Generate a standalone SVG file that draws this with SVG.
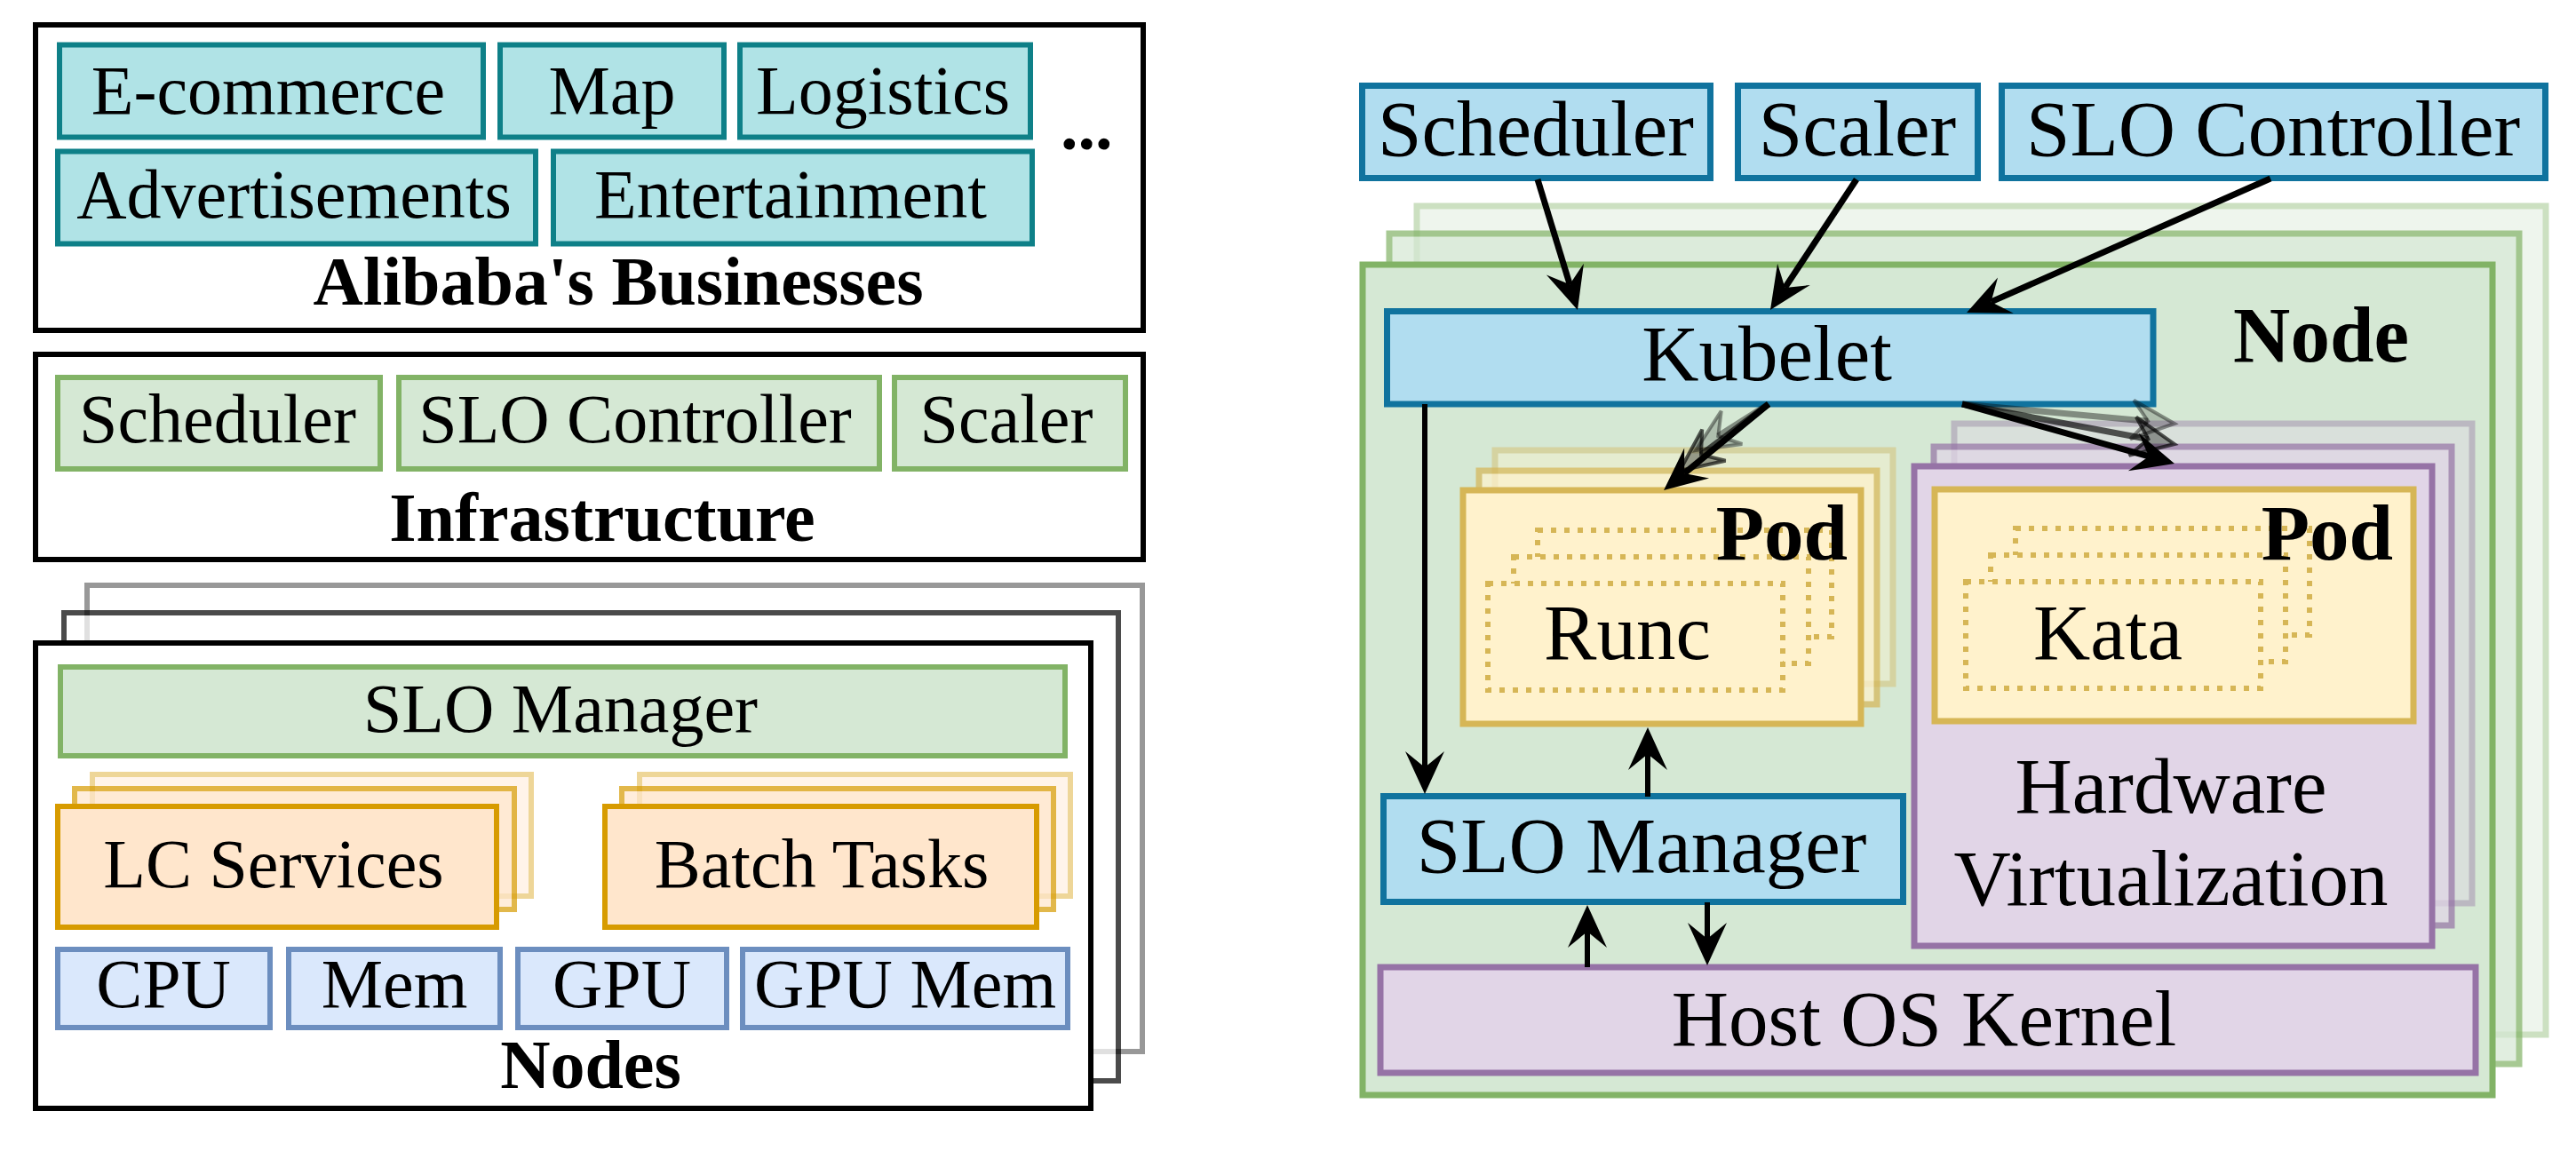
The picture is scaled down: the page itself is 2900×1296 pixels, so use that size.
<svg xmlns="http://www.w3.org/2000/svg" width="2900" height="1296" viewBox="0 0 2900 1296">
<style>
text{font-family:"Liberation Serif","Times New Roman",serif;fill:#000}
.l{font-size:78px}
.r{font-size:89px}
.b{font-weight:bold}
.m{text-anchor:middle}
.e{text-anchor:end}
.frame{fill:#fff;stroke:#000;stroke-width:6}
.teal{fill:#b0e3e6;stroke:#0e8088;stroke-width:6}
.grnL{fill:#d5e8d4;stroke:#82b366;stroke-width:6}
.orgL{fill:#ffe6cc;stroke:#d79b00;stroke-width:6}
.bluL{fill:#dae8fc;stroke:#6c8ebf;stroke-width:6}
.blu{fill:#b1ddf0;stroke:#10739e;stroke-width:7}
.grn{fill:#d5e8d4;stroke:#82b366;stroke-width:7}
.yel{fill:#fff2cc;stroke:#d6b656;stroke-width:7}
.pur{fill:#e1d5e7;stroke:#9673a6;stroke-width:7}
.dot{fill:#fff2cc;stroke:#d6b656;stroke-width:6;stroke-dasharray:6 9}
.o7{opacity:0.7}
.o4{opacity:0.4}
.c{fill:none;stroke:#000;stroke-width:7}
.cs{fill:none;stroke:#000;stroke-width:6}
.g6{fill:none;stroke:#000;stroke-width:7;stroke-opacity:0.65}
.g3{fill:none;stroke:#000;stroke-width:7;stroke-opacity:0.4}
</style>
<defs>
<marker id="arr" markerUnits="userSpaceOnUse" viewBox="-22 -26 56 52" refX="0" refY="0" markerWidth="56" markerHeight="52" orient="auto">
<path d="M30,0 L-18,-22 L0,0 L-18,22 Z" fill="#000"/>
</marker>
<marker id="gh6" markerUnits="userSpaceOnUse" viewBox="-24 -28 60 56" refX="0" refY="0" markerWidth="60" markerHeight="56" orient="auto">
<path d="M30,0 L-18,-22 L0,0 L-18,22 Z" fill="#000" fill-opacity="0.35" stroke="#000" stroke-opacity="0.65" stroke-width="4"/>
</marker>
<marker id="gh3" markerUnits="userSpaceOnUse" viewBox="-24 -28 60 56" refX="0" refY="0" markerWidth="60" markerHeight="56" orient="auto">
<path d="M30,0 L-18,-22 L0,0 L-18,22 Z" fill="#000" fill-opacity="0.18" stroke="#000" stroke-opacity="0.4" stroke-width="4"/>
</marker>
</defs>
<rect width="2900" height="1296" fill="#fff"/>

<!-- LEFT: Alibaba's Businesses -->
<g id="alibaba-businesses">
<rect class="frame" x="40" y="28" width="1247" height="344"/>
<text class="l b m" x="696" y="343">Alibaba's Businesses</text>
</g>
<g id="ecommerce"><rect class="teal" x="67" y="50.5" width="477" height="104"/><text class="l m" x="302" y="128">E-commerce</text></g>
<g id="map"><rect class="teal" x="563" y="50.5" width="252" height="104"/><text class="l m" x="689" y="128">Map</text></g>
<g id="logistics"><rect class="teal" x="833" y="50.5" width="327" height="104"/><text class="l m" x="994" y="128">Logistics</text></g>
<g id="advertisements"><rect class="teal" x="65" y="170.5" width="538" height="104"/><text class="l m" x="331" y="245">Advertisements</text></g>
<g id="entertainment"><rect class="teal" x="623" y="170.5" width="539" height="104"/><text class="l m" x="890" y="245">Entertainment</text></g>
<g id="more"><text class="l b" x="1194" y="168">...</text></g>

<!-- LEFT: Infrastructure -->
<g id="infrastructure">
<rect class="frame" x="40" y="399" width="1247" height="231"/>
<text class="l b m" x="678" y="609">Infrastructure</text>
</g>
<g id="infra-scheduler"><rect class="grnL" x="65" y="425" width="363" height="103"/><text class="l m" x="245" y="498">Scheduler</text></g>
<g id="infra-slo-controller"><rect class="grnL" x="449" y="425" width="541" height="103"/><text class="l m" x="715" y="498">SLO Controller</text></g>
<g id="infra-scaler"><rect class="grnL" x="1007" y="425" width="260" height="103"/><text class="l m" x="1133" y="498">Scaler</text></g>

<!-- LEFT: Nodes -->
<g id="nodes">
<rect class="frame o4" x="98" y="659" width="1188" height="525"/>
<rect class="frame o7" x="72" y="690" width="1187" height="527"/>
<rect class="frame" x="40" y="724" width="1188" height="524"/>
<text class="l b m" x="665" y="1225">Nodes</text>
</g>
<g id="nodes-slo-manager"><rect class="grnL" x="68" y="751" width="1131" height="100"/><text class="l m" x="631" y="824">SLO Manager</text></g>
<g id="lc-services">
<rect class="orgL o4" x="104" y="872" width="494" height="137"/>
<rect class="orgL o7" x="84" y="888" width="495" height="136"/>
<rect class="orgL" x="65" y="908" width="494" height="136"/>
<text class="l m" x="308" y="999">LC Services</text>
</g>
<g id="batch-tasks">
<rect class="orgL o4" x="720" y="872" width="485" height="137"/>
<rect class="orgL o7" x="700" y="888" width="486" height="136"/>
<rect class="orgL" x="681" y="908" width="486" height="136"/>
<text class="l m" x="925" y="999">Batch Tasks</text>
</g>
<g id="cpu"><rect class="bluL" x="65" y="1069" width="239" height="88"/><text class="l m" x="184" y="1134">CPU</text></g>
<g id="mem"><rect class="bluL" x="325" y="1069" width="238" height="88"/><text class="l m" x="444" y="1134">Mem</text></g>
<g id="gpu"><rect class="bluL" x="583" y="1069" width="235" height="88"/><text class="l m" x="700" y="1134">GPU</text></g>
<g id="gpu-mem"><rect class="bluL" x="836" y="1069" width="366" height="88"/><text class="l m" x="1019" y="1134">GPU Mem</text></g>

<!-- RIGHT -->
<g id="scheduler"><rect class="blu" x="1533.5" y="96.5" width="392" height="104"/><text class="r m" x="1729" y="175">Scheduler</text></g>
<g id="scaler"><rect class="blu" x="1956.5" y="96.5" width="270" height="104"/><text class="r m" x="2091" y="175">Scaler</text></g>
<g id="slo-controller"><rect class="blu" x="2253.5" y="96.5" width="612" height="104"/><text class="r m" x="2559" y="175">SLO Controller</text></g>

<g id="node">
<rect class="grn o4" x="1595" y="232" width="1271" height="933"/>
<rect class="grn o7" x="1564" y="263" width="1272" height="935"/>
<rect class="grn" x="1534" y="298" width="1272" height="935"/>
<text class="r b m" x="2613" y="407">Node</text>
</g>
<g id="kubelet"><rect class="blu" x="1561.5" y="350.5" width="862.5" height="104.5"/><text class="r m" x="1989" y="428">Kubelet</text></g>

<g id="hardware-virtualization">
<rect class="pur o4" x="2200" y="477" width="583" height="540"/>
<rect class="pur o7" x="2177" y="503" width="583" height="539"/>
<rect class="pur" x="2155" y="525" width="583" height="540"/>
<text class="r m" x="2444" y="915">Hardware</text>
<text class="r m" x="2444" y="1019">Virtualization</text>
</g>

<g id="runc-pod">
<rect class="yel o4" x="1683" y="507" width="448" height="263"/>
<rect class="yel o7" x="1665" y="530" width="448" height="263"/>
<rect class="yel" x="1647" y="552" width="448" height="263"/>
<rect class="dot" x="1731" y="597" width="331" height="120"/>
<rect class="dot" x="1704" y="627" width="332" height="120"/>
<rect class="dot" x="1675" y="657" width="332" height="120"/>
<text class="r b e" x="2080" y="630">Pod</text>
<text class="r m" x="1832" y="742">Runc</text>
</g>

<g id="kata-pod">
<rect class="yel" x="2178" y="551" width="539" height="261"/>
<rect class="dot" x="2269" y="595" width="331" height="120"/>
<rect class="dot" x="2241" y="625" width="332" height="120"/>
<rect class="dot" x="2213" y="655" width="332" height="120"/>
<text class="r b e" x="2694" y="630">Pod</text>
<text class="r m" x="2373" y="742">Kata</text>
</g>

<g id="slo-manager"><rect class="blu" x="1557.5" y="896.5" width="585" height="119"/><text class="r m" x="1848" y="982">SLO Manager</text></g>
<g id="host-os-kernel"><rect class="pur" x="1554" y="1089" width="1233" height="119"/><text class="r m" x="2166" y="1177">Host OS Kernel</text></g>

<g id="connectors">
<path class="c" d="M1731,202 L1767.2,320.3" marker-end="url(#arr)"/>
<path class="c" d="M2090,202 L2009.5,323.9" marker-end="url(#arr)"/>
<path class="c" d="M2556,201 L2241.5,339.9" marker-end="url(#arr)"/>
<path class="cs" d="M1604,455 L1604,864" marker-end="url(#arr)"/>
<path class="cs" d="M1855,897 L1855,849" marker-end="url(#arr)"/>
<path class="cs" d="M1787,1089 L1787,1049" marker-end="url(#arr)"/>
<path class="cs" d="M1922,1016 L1922,1057" marker-end="url(#arr)"/>
<path class="g3" d="M1991,455 L1934.3,491" marker-end="url(#gh3)"/>
<path class="g6" d="M1991,455 L1915,512" marker-end="url(#gh6)"/>
<path class="c" d="M1991,455 L1896.2,533" marker-end="url(#arr)"/>
<path class="g3" d="M2209,455 L2418.1,474.2" marker-end="url(#gh3)"/>
<path class="g6" d="M2209,455 L2418.5,494.5" marker-end="url(#gh6)"/>
<path class="c" d="M2209,455 L2419.1,513.9" marker-end="url(#arr)"/>
</g>
</svg>
